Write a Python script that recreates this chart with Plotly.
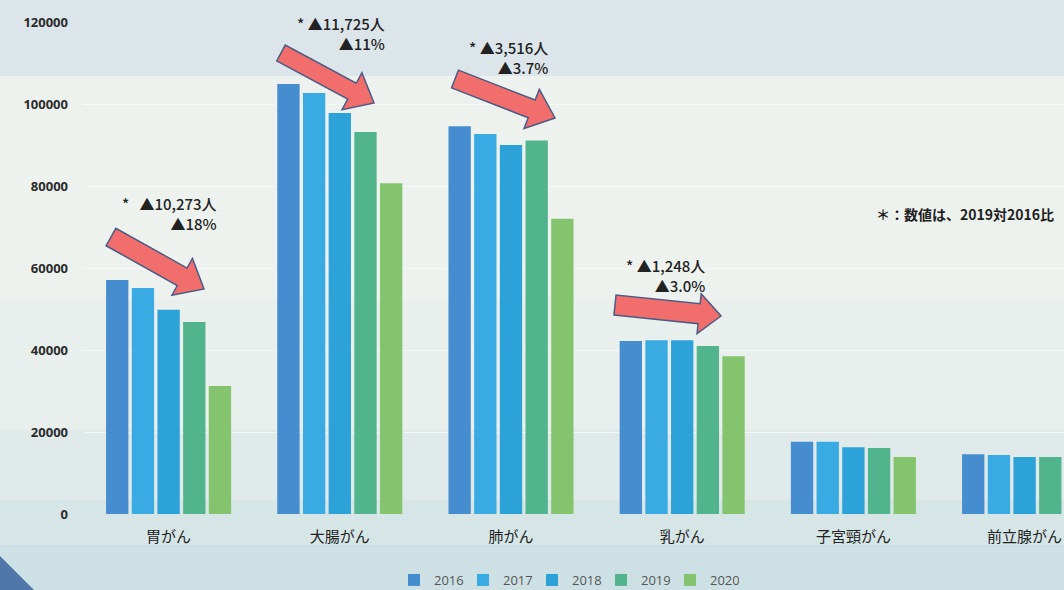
import plotly.graph_objects as go
import math

# ---------------- data ----------------
categories = ["胃がん", "大腸がん", "肺がん", "乳がん", "子宮頸がん", "前立腺がん"]
years = ["2016", "2017", "2018", "2019", "2020"]
v2016 = [57100, 104900, 94600, 42200, 17600, 14600]
v2017 = [55100, 102700, 92700, 42400, 17600, 14400]
v2018 = [49800, 97800, 90000, 42400, 16300, 13900]
v2019 = [46800, 93200, 91100, 41000, 16100, 13900]
v2020 = [31200, 80700, 72000, 38500, 13900, 13000]
series = [v2016, v2017, v2018, v2019, v2020]
colors = ["#458dcf", "#3aaae2", "#2da2d8", "#52b48c", "#84c46e"]

note_counts = ["▲10,273人", "▲11,725人", "▲3,516人", "▲1,248人"]
note_pcts = ["▲18%", "▲11%", "▲3.7%", "▲3.0%"]
footnote = "＊：数値は、2019対2016比"

# ---------------- layout geometry ----------------
W, H = 1064, 590
ML, MR, MT, MB = 83, 0, 22, 76
PW, PH = W - ML - MR, H - MT - MB
GROUP = 171.2  # px per category


def px(x):
    return (x - ML) / PW


def py(y):
    return (H - MB - y) / PH


fig = go.Figure()
for yr, vals, c in zip(years, series, colors):
    fig.add_trace(go.Bar(name=yr, x=categories, y=vals, marker_color=c,
                         marker_line_width=0))

shapes = []
# background bands (photo of projected slide)
bands = [
    (0, 76, "#dce5ea"),
    (76, 300, "#eef2ef"),
    (300, 430, "#e9efed"),
    (430, 500, "#e0eaea"),
    (500, 545, "#d6e6e7"),
    (545, 590, "#cde1e4"),
]
for y0, y1, col in bands:
    shapes.append(dict(type="rect", xref="paper", yref="paper", layer="below",
                       x0=px(0), x1=px(W), y0=py(y1), y1=py(y0),
                       fillcolor=col, line_width=0))
# dark corner triangle
shapes.append(dict(type="path", xref="paper", yref="paper", layer="below",
                   path=f"M {px(0)},{py(556)} L {px(34)},{py(590)} L {px(0)},{py(590)} Z",
                   fillcolor="#4f77a8", line_width=0))


def arrow(T, P, s, h, L):
    dx, dy = P[0] - T[0], P[1] - T[1]
    d = math.hypot(dx, dy)
    ux, uy = dx / d, dy / d
    nx, ny = -uy, ux
    Bx, By = P[0] - L * ux, P[1] - L * uy
    pts = [
        (T[0] + s * nx, T[1] + s * ny),
        (Bx + s * nx, By + s * ny),
        (Bx + h * nx, By + h * ny),
        P,
        (Bx - h * nx, By - h * ny),
        (Bx - s * nx, By - s * ny),
        (T[0] - s * nx, T[1] - s * ny),
    ]
    path = "M " + " L ".join(f"{px(a)},{py(b)}" for a, b in pts) + " Z"
    return dict(type="path", xref="paper", yref="paper", path=path,
                fillcolor="#f26e6c", line=dict(color="#4b5b85", width=1.5))


shapes.append(arrow((111, 237), (204, 289), 10, 21, 25))
shapes.append(arrow((281, 53), (374, 103), 9, 21, 25))
shapes.append(arrow((455, 79), (555, 118), 9.5, 21, 25))
shapes.append(arrow((615, 305), (721, 316), 10, 20, 22))

annotations = []
note_pos = [(219, 191), (387, 11), (550, 35), (707, 253)]
for (xr, yt), cnt, pct in zip(note_pos, note_counts, note_pcts):
    star = "*   " if cnt == note_counts[0] else "* "
    annotations.append(dict(
        xref="paper", yref="paper", x=px(xr), y=py(yt), xanchor="right", yanchor="top",
        text=f"{star}{cnt}<br>{pct}", align="right", showarrow=False,
        font=dict(family="Noto Sans CJK JP", size=15, color="#222", weight=500)))
annotations.append(dict(
    xref="paper", yref="paper", x=px(1056), y=py(214), xanchor="right", yanchor="middle",
    text=footnote, showarrow=False,
    font=dict(family="Noto Sans CJK JP", size=14, color="#1e1e1e", weight="bold")))

fig.update_layout(
    width=W, height=H,
    margin=dict(l=ML, r=MR, t=MT, b=MB, autoexpand=False),
    paper_bgcolor="#e6eeee",
    plot_bgcolor="rgba(0,0,0,0)",
    barmode="group", bargap=0.25, bargroupgap=0.13,
    shapes=shapes, annotations=annotations,
    showlegend=True,
    legend=dict(orientation="h", x=px(394), y=py(580), xanchor="left", yanchor="middle",
                bgcolor="rgba(0,0,0,0)", font=dict(family="Open Sans", size=13, color="#555"),
                itemwidth=30, entrywidth=24, entrywidthmode="pixels", traceorder="normal"),
    xaxis=dict(range=[-0.5, -0.5 + PW / GROUP], showgrid=False, showline=False, ticks="",
               ticklabelstandoff=12,
               tickfont=dict(family="Noto Sans CJK JP", size=15, color="#222")),
    yaxis=dict(range=[0, 120000], tickvals=[0, 20000, 40000, 60000, 80000, 100000, 120000],
               tickformat="d", showgrid=True, gridcolor="rgba(255,255,255,0.55)", gridwidth=1,
               zeroline=False, showline=False, ticklabelstandoff=14,
               tickfont=dict(family="Open Sans", size=13, color="#2b2b2b", weight="bold")),
)

fig.write_html("out.html", config={"displayModeBar": False},
               post_script="document.body.style.margin='0';document.body.style.overflow='hidden';")
